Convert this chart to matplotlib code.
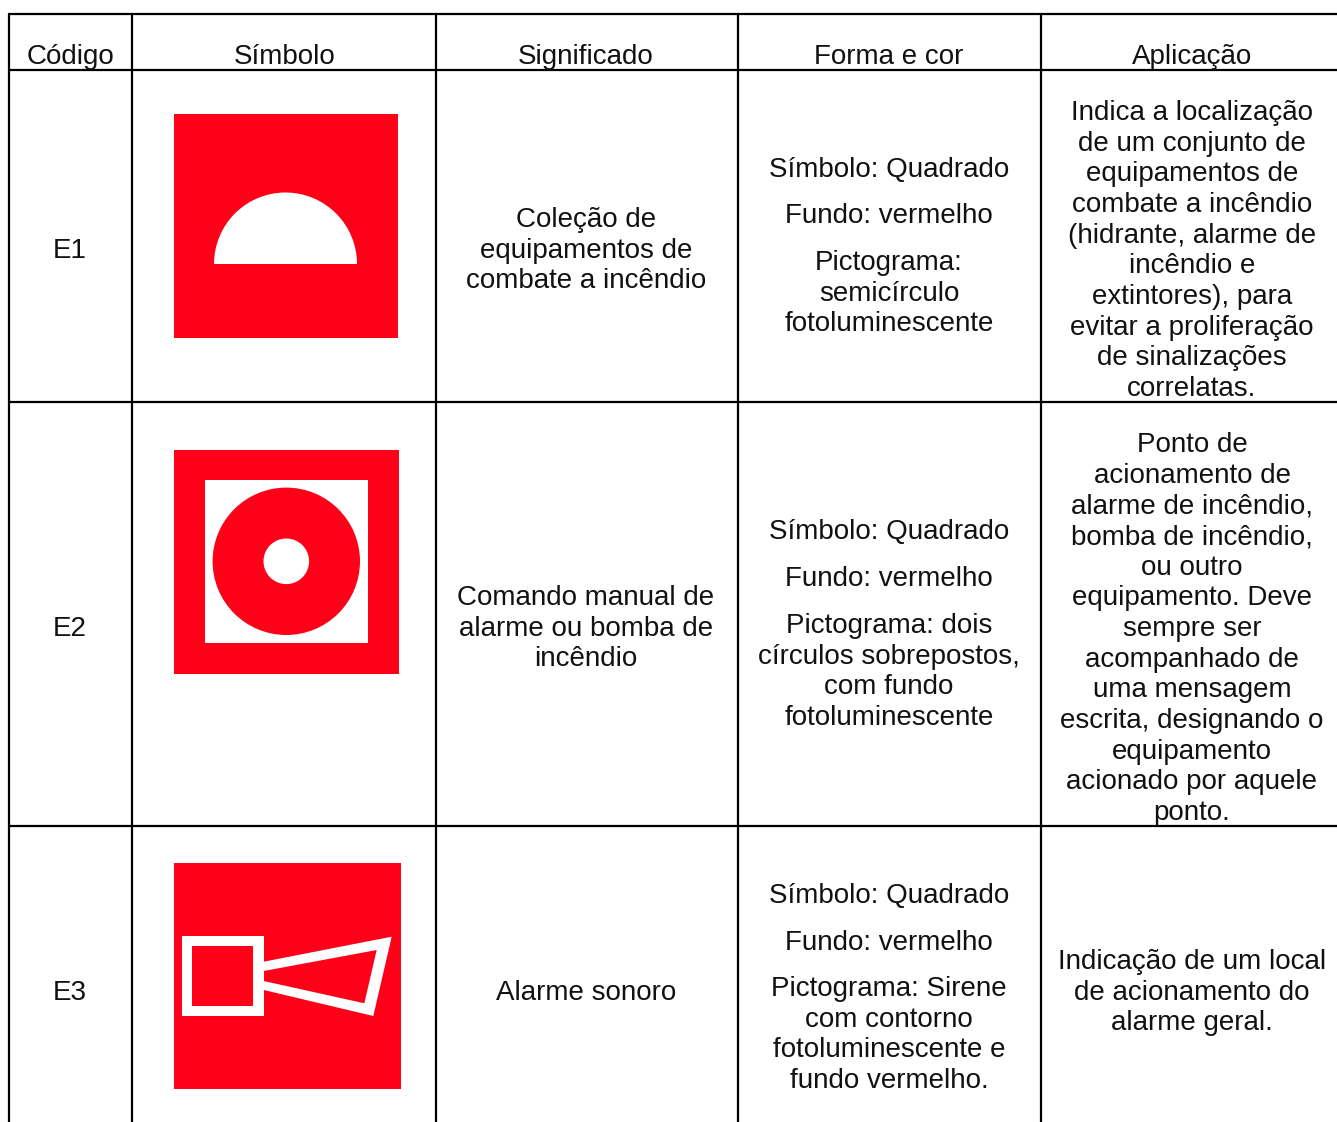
import matplotlib
matplotlib.use("Agg")
import matplotlib.pyplot as plt
from matplotlib.patches import Rectangle, Circle, Wedge, Polygon

plt.rcParams['font.family'] = ['Liberation Sans', 'DejaVu Sans']

headers = ["Código", "Símbolo", "Significado", "Forma e cor", "Aplicação"]
codes = ["E1", "E2", "E3"]
meanings = [
    ["Coleção de", "equipamentos de", "combate a incêndio"],
    ["Comando manual de", "alarme ou bomba de", "incêndio"],
    ["Alarme sonoro"],
]
forms = [
    [["Símbolo: Quadrado"], ["Fundo: vermelho"],
     ["Pictograma:", "semicírculo", "fotoluminescente"]],
    [["Símbolo: Quadrado"], ["Fundo: vermelho"],
     ["Pictograma: dois", "círculos sobrepostos,", "com fundo", "fotoluminescente"]],
    [["Símbolo: Quadrado"], ["Fundo: vermelho"],
     ["Pictograma: Sirene", "com contorno", "fotoluminescente e", "fundo vermelho."]],
]
uses = [
    ["Indica a localização", "de um conjunto de", "equipamentos de", "combate a incêndio",
     "(hidrante, alarme de", "incêndio e", "extintores), para", "evitar a proliferação",
     "de sinalizações", "correlatas."],
    ["Ponto de", "acionamento de", "alarme de incêndio,", "bomba de incêndio,", "ou outro",
     "equipamento. Deve", "sempre ser", "acompanhado de", "uma mensagem",
     "escrita, designando o", "equipamento", "acionado por aquele", "ponto."],
    ["Indicação de um local", "de acionamento do", "alarme geral."],
]

# layout, in pixels of the reference
col_lines = [9, 132, 436, 738, 1041]
row_lines = [14, 70, 402, 826]
col_centers = [70, 285, 586, 889, 1192]
header_base = 64
code_base = [258, 636, 1000]
meaning_base = [227, 605, 1000]
form_base = [[177, 223, 270], [539, 586, 633], [903, 950, 996]]
use_base = [120, 452, 969]
line_step = 30.67
RED = "#ff0019"
FONT = 20

fig = plt.figure(figsize=(13.37, 11.22), dpi=100)
ax = fig.add_axes([0, 0, 1, 1])
ax.set_xlim(0, 1337)
ax.set_ylim(1122, 0)
ax.axis("off")


def draw_lines(x, base, lines):
    for i, line in enumerate(lines):
        ax.text(x, base + i * line_step, line, ha="center", va="baseline",
                fontsize=FONT, color="#111111")


# grid
for x in col_lines:
    ax.plot([x, x], [row_lines[0], 1122], color="black", lw=1.6, solid_capstyle="butt")
for y in row_lines:
    ax.plot([col_lines[0] - 1, 1337], [y, y], color="black", lw=1.6, solid_capstyle="butt")

# text columns
for x, h in zip(col_centers, headers):
    draw_lines(x, header_base, [h])
for r in range(3):
    draw_lines(col_centers[0], code_base[r], [codes[r]])
    draw_lines(col_centers[2], meaning_base[r], meanings[r])
    for base, para in zip(form_base[r], forms[r]):
        draw_lines(col_centers[3], base, para)
    draw_lines(col_centers[4], use_base[r], uses[r])

# E1 symbol
ax.add_patch(Rectangle((174, 114), 224, 224, fc=RED, ec="none"))
ax.add_patch(Wedge((285.5, 264), 71.5, 180, 360, fc="white", ec="none"))

# E2 symbol
ax.add_patch(Rectangle((174, 450), 225, 224, fc=RED, ec="none"))
ax.add_patch(Rectangle((205, 480), 163, 163, fc="white", ec="none"))
ax.add_patch(Circle((286.3, 561.3), 73.7, fc=RED, ec="none"))
ax.add_patch(Circle((286.3, 561.3), 22.8, fc="white", ec="none"))

# E3 symbol
ax.add_patch(Rectangle((174, 863), 227, 226, fc=RED, ec="none"))
ax.add_patch(Rectangle((181.7, 936), 82, 80, fc="white", ec="none"))
ax.add_patch(Rectangle((192.3, 946.3), 61, 59.7, fc=RED, ec="none"))
ax.add_patch(Polygon([(263.7, 961.7), (391.7, 936.7), (373.3, 1016), (263.7, 990),
                      (263.7, 981), (364.3, 1003.3), (376.7, 950), (263.7, 971)],
                     closed=True, fc="white", ec="none"))

fig.savefig("out.png", dpi=100)
